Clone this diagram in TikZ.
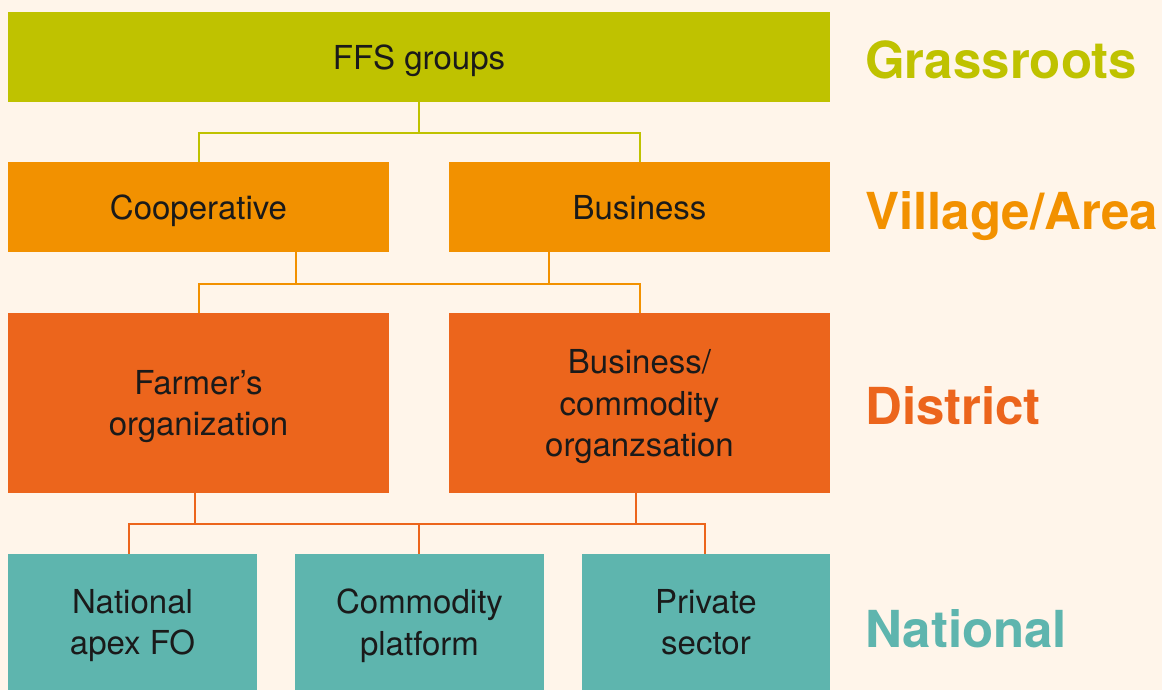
\documentclass[tikz,border=0pt]{standalone}
\usepackage{fontspec}
\setmainfont{TeX Gyre Heros}
\usetikzlibrary{calc}

\definecolor{bgcream}{HTML}{FFF5EA}
\definecolor{grassgreen}{HTML}{BFC200}
\definecolor{villorange}{HTML}{F29100}
\definecolor{distorange}{HTML}{EC651C}
\definecolor{natteal}{HTML}{5EB5AE}
\definecolor{boxtext}{HTML}{1A1A1A}

\tikzset{
	box/.style={inner sep=0pt, minimum width=381pt, minimum height=90pt, align=center,
		text=boxtext, text depth=0pt, font=\fontsize{33}{41.5}\selectfont},
	level/.style={anchor=west, inner sep=0pt, text depth=0pt, font=\fontsize{51}{51}\selectfont\bfseries},
	link/.style={line width=2pt}
}

\begin{document}
\begin{tikzpicture}[x=1pt,y=-1pt]
		\fill[bgcream] (0,0) rectangle (1162,690);
		\useasboundingbox (0,0) rectangle (1162,690);

		% boxes
		\node[box, fill=grassgreen, minimum width=822pt] (ffs) at (419,57) {FFS groups};

		\node[box, fill=villorange] (coop) at (198.5,207) {Cooperative};
		\node[box, fill=villorange] (biz) at (639.5,207) {Business};

		\node[box, fill=distorange, minimum height=180pt] (farmer) at (198.5,403) {Farmer’s\\organization};
		\node[box, fill=distorange, minimum height=180pt] (bizcom) at (639.5,403) {Business/\\commodity\\organzsation};

		\node[box, fill=natteal, minimum width=249pt, minimum height=136pt] (apex) at (132.5,622) {National\\apex FO};
		\node[box, fill=natteal, minimum width=249pt, minimum height=136pt] (platform) at (419.5,622) {Commodity\\platform};
		\node[box, fill=natteal, minimum width=248pt, minimum height=136pt] (private) at (706,622) {Private\\sector};

		% level labels
		\node[level, text=grassgreen] (lgrass) at (865,60) {Grassroots};
		\node[level, text=villorange] (lvill) at (865,211) {Village/Area};
		\node[level, text=distorange] (ldist) at (865,405) {District};
		\node[level, text=natteal] (lnat) at (865,628) {National};

		% connectors
		\coordinate (j1) at (419,133);
		\draw[link, grassgreen] (ffs.south) -- (j1);
		\draw[link, grassgreen] (coop.north) |- (j1) -| (biz.north);

		\coordinate (j2) at (419,284);
		\coordinate (coopout) at ([xshift=97.5pt]coop.south);
		\coordinate (bizout) at ([xshift=-90.5pt]biz.south);
		\draw[link, villorange] (farmer.north) |- (j2) -| (bizcom.north);
		\draw[link, villorange] (coopout) -- (coopout |- j2);
		\draw[link, villorange] (bizout) -- (bizout |- j2);

		\coordinate (j3) at (419,524);
		\coordinate (farmout) at ([xshift=-3.5pt]farmer.south);
		\coordinate (bizcomout) at ([xshift=-3.5pt]bizcom.south);
		\draw[link, distorange] ([xshift=-3.5pt]apex.north) |- (j3) -| ([xshift=-1pt]private.north);
		\draw[link, distorange] ([xshift=-0.5pt]platform.north) -- (j3);
		\draw[link, distorange] (farmout) -- (farmout |- j3);
		\draw[link, distorange] (bizcomout) -- (bizcomout |- j3);
	\end{tikzpicture}
\end{document}
